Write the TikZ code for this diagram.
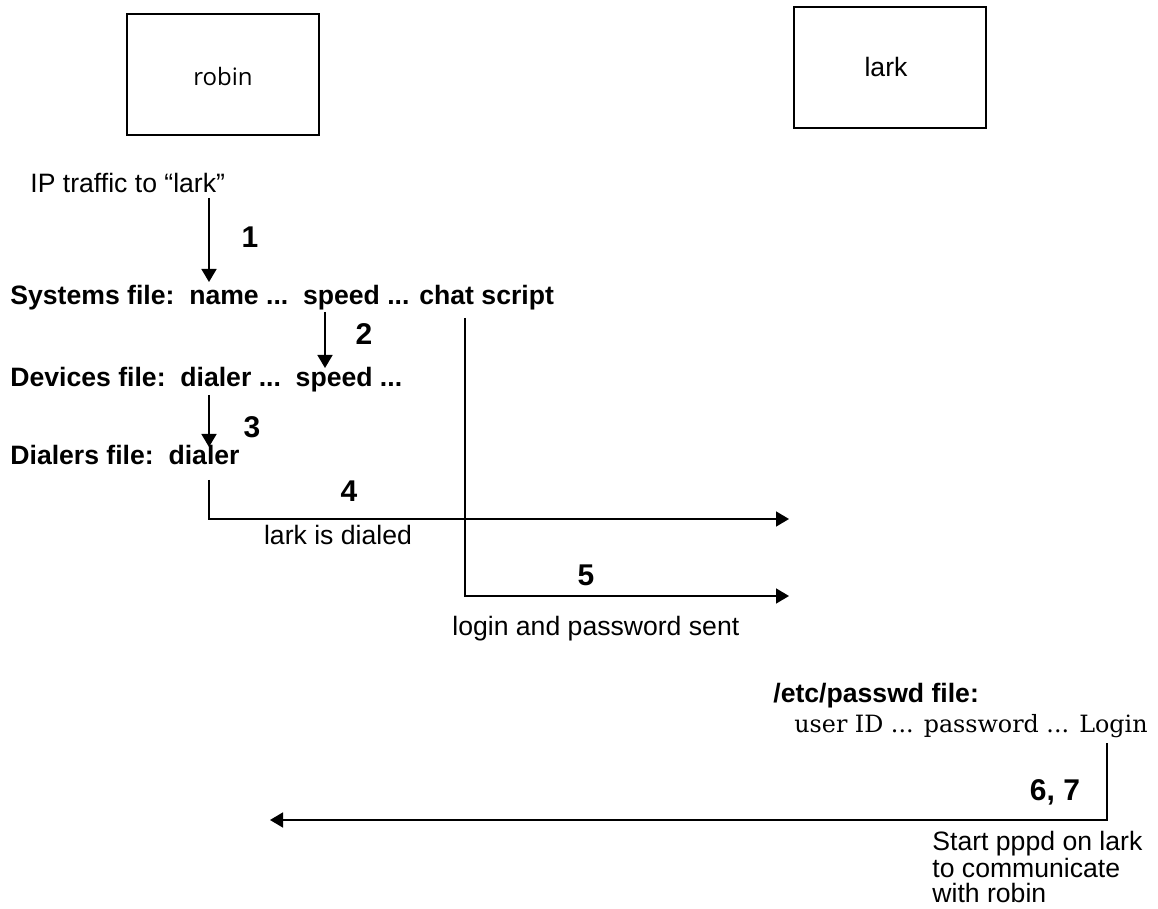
\documentclass[tikz,border=0pt]{standalone}
\usepackage{fontspec}
\setmainfont{Liberation Sans}
\newfontfamily\schoolfont{DejaVu Serif}
\newfontfamily\robinfont{Open Sans}
\usepackage{tikz}
\usetikzlibrary{arrows.meta,positioning,calc}
\newcommand{\fsize}{\fontsize{13.3}{16}\selectfont}

\begin{document}
\begin{tikzpicture}[
  x=0.5pt, y=-0.5pt,
  host/.style={draw, line width=1pt, minimum width=96pt, minimum height=60.5pt, inner sep=0pt},
  txt/.style={font=\fsize, inner sep=0pt},
  bold/.style={font=\fsize\bfseries, inner sep=0pt},
  stepnum/.style={font=\fontsize{15}{18}\selectfont\bfseries, inner sep=0pt, anchor=base},
  arrow/.style={-{Triangle[length=6.5pt,width=7.5pt]}, line width=0.8pt}
]
\useasboundingbox (0,0) rectangle (1158,909);
% the two hosts
\node[host] (robin) at (223,74.5) {};
\node[font=\robinfont\fontsize{12}{14}\selectfont, inner sep=0pt, anchor=base] (robinname) at (223,86) {robin};
\node[host] (lark) at (890,67.5) {};
\node[txt, anchor=base] (larkname) at (886,77) {lark};

% robin side: configuration files
\node[txt, anchor=base west] (ip) at (30,193) {IP traffic to ``lark''};
\node[bold, anchor=base west] (sys) at (10,305) {Systems file:\ \ name ...\ \ speed ... chat script};
\node[bold, anchor=base west] (dev) at (10,387) {Devices file:\ \ dialer ...\ \ speed ...};
\node[bold, anchor=base west] (dial) at (10,465) {Dialers file:\ \ dialer};

\node[stepnum] (n1) at (250,248) {1};
\node[stepnum] (n2) at (364,345) {2};
\node[stepnum] (n3) at (252,438) {3};
\node[stepnum] (n4) at (349,502) {4};
\node[stepnum] (n5) at (586,585) {5};
\node[txt, anchor=base] (dialed) at (338,545) {lark is dialed};
\node[txt, anchor=base west] (sent) at (452,635) {login and password sent};

% lark side
\node[bold, anchor=base west] (passwd) at (773,702) {/etc/passwd file:};
\node[font=\schoolfont\fontsize{11.9}{14}\selectfont, inner sep=0pt, anchor=base east] (fields) at (1148,732) {user ID ... password ... Login};
\node[stepnum] (n67) at (1055,800) {6, 7};
\node[txt, anchor=base west, align=left, font=\fontsize{13.3}{12.25}\selectfont] (pppd) at (932,902) {Start pppd on lark\\to communicate\\with robin};

% connector ends
\coordinate (a1) at (209,198);
\coordinate (b1) at (209,282);
\coordinate (a2) at (325,312);
\coordinate (b2) at (325,368);
\coordinate (a3) at (209,395);
\coordinate (b3) at (209,447);
\coordinate (a4) at (209,480);
\coordinate (k4) at (209,519);
\coordinate (b4) at (789,519);
\coordinate (a5) at (465,318);
\coordinate (k5) at (465,596);
\coordinate (b5) at (789,596);
\coordinate (a6) at (1107,743);
\coordinate (k6) at (1107,820);
\coordinate (b6) at (270,820);

\draw[arrow] (a1) -- (b1);
\draw[arrow] (a2) -- (b2);
\draw[arrow] (a3) -- (b3);
\draw[arrow] (a4) -- (k4) -- (b4);
\draw[arrow] (a5) -- (k5) -- (b5);
\draw[arrow] (a6) -- (k6) -- (b6);
\end{tikzpicture}
\end{document}
